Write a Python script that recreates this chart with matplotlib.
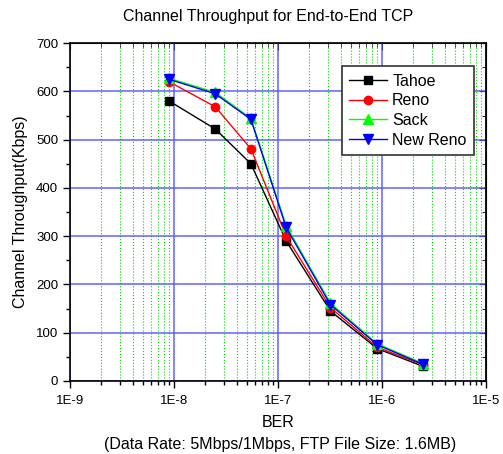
import matplotlib.pyplot as plt
from matplotlib.ticker import LogLocator, MultipleLocator, NullFormatter, FixedLocator, FixedFormatter

plt.rcParams['font.family'] = ['Liberation Sans', 'DejaVu Sans']

# BER values (x axis, log scale)
ber = [9e-9, 2.5e-8, 5.5e-8, 1.2e-7, 3.2e-7, 9e-7, 2.5e-6]

# throughput in Kbps for each TCP variant
tahoe = [580, 522, 450, 290, 145, 67, 30]
reno = [620, 568, 481, 300, 152, 70, 33]
sack = [627, 598, 544, 322, 161, 77, 36]
new_reno = [625, 595, 542, 318, 158, 75, 34]

fig = plt.figure(figsize=(5.03, 4.54), dpi=100)
ax = fig.add_axes([0.139, 0.161, 0.827, 0.744])

ax.plot(ber, tahoe, color='black', marker='s', markersize=5.5, lw=1, label='Tahoe', zorder=3)
ax.plot(ber, reno, color='red', marker='o', markersize=6, lw=1, label='Reno', zorder=3)
ax.plot(ber, sack, color='#00ff00', marker='^', markersize=6.5, lw=1, label='Sack', zorder=3)
ax.plot(ber, new_reno, color='blue', marker='v', markersize=6.5, lw=1, label='New Reno', zorder=4)

ax.set_xscale('log')
ax.set_xlim(1e-9, 1e-5)
ax.set_ylim(0, 700)

decades = [1e-9, 1e-8, 1e-7, 1e-6, 1e-5]
ax.xaxis.set_major_locator(FixedLocator(decades))
ax.xaxis.set_major_formatter(FixedFormatter(['1E-9', '1E-8', '1E-7', '1E-6', '1E-5']))
ax.xaxis.set_minor_locator(LogLocator(base=10, subs=range(2, 10), numticks=20))
ax.xaxis.set_minor_formatter(NullFormatter())
ax.yaxis.set_major_locator(MultipleLocator(100))
ax.yaxis.set_minor_locator(MultipleLocator(50))

# grid: blue major lines, green dotted minor lines on x
ax.grid(True, which='major', color='#5555ff', lw=1.2, alpha=0.85)
ax.grid(True, which='minor', axis='x', color='#00dd00', lw=0.8, linestyle=':')
ax.set_axisbelow(True)

ax.tick_params(which='both', direction='out', top=False, right=False, labelsize=9.5)
ax.tick_params(which='major', length=5, width=1)
ax.tick_params(which='minor', length=3, width=1)
ax.tick_params(axis='x', which='major', pad=5)
sec = ax.secondary_yaxis('right')
sec.yaxis.set_major_locator(MultipleLocator(100))
sec.yaxis.set_minor_locator(MultipleLocator(50))
sec.tick_params(which='both', direction='in', labelright=False)
sec.tick_params(which='major', length=5)
sec.tick_params(which='minor', length=3)
topx = ax.secondary_xaxis('top')
topx.set_xscale('log')
topx.xaxis.set_major_locator(FixedLocator(decades))
topx.xaxis.set_minor_locator(LogLocator(base=10, subs=range(2, 10), numticks=20))
topx.xaxis.set_minor_formatter(NullFormatter())
topx.tick_params(which='both', direction='in', labeltop=False)
topx.tick_params(which='major', length=5)
topx.tick_params(which='minor', length=3)

for s in ax.spines.values():
    s.set_linewidth(1.2)

fig.text(268 / 503, 1 - 17 / 454, 'Channel Throughput for End-to-End TCP',
         ha='center', va='center', fontsize=11.5)
ax.set_ylabel('Channel Throughput(Kbps)', fontsize=11.5, labelpad=6)
ax.set_xlabel('BER', fontsize=11.5, va='center')
ax.xaxis.set_label_coords(0.5, -(423 - 381) / 338)
fig.text(280 / 503, 1 - 444 / 454, '(Data Rate: 5Mbps/1Mbps, FTP File Size: 1.6MB)',
         ha='center', va='center', fontsize=11.5)

leg = ax.legend(loc='upper right', bbox_to_anchor=(0.99, 0.955), fontsize=11.5,
                fancybox=False, framealpha=1, edgecolor='#333333',
                handlelength=2.4, borderpad=0.45, labelspacing=0.3, handletextpad=0.3)
leg.get_frame().set_linewidth(1.2)

fig.savefig('out.png', dpi=100)
